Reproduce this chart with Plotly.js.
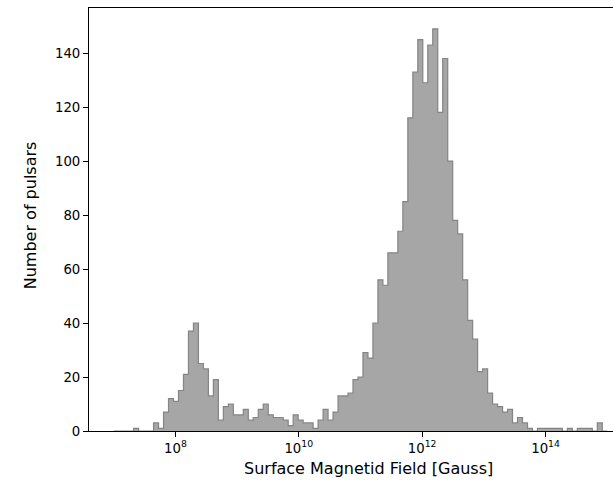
<!DOCTYPE html>
<html>
<head>
<meta charset="utf-8">
<script src="https://cdn.plot.ly/plotly-3.0.1.min.js"></script>
<style>
  html, body { margin: 0; padding: 0; background: #ffffff; overflow: hidden; }
  #chart { width: 613px; height: 488px; }
</style>
</head>
<body>
<div id="chart"></div>
<script>
// Histogram bins: 99 log-spaced bins from 1e7 to 1e15 (log10 limits)
const binLogMin = 7;
const binLogMax = 15;
const binCount = 99;

// Counts per bin (number of pulsars)
const counts = [
  0, 0, 0, 0, 1, 0, 0, 0, 3, 1,
  7, 12, 11, 15, 21, 37, 40, 25, 23, 13,
  19, 4, 9, 10, 6, 6, 8, 4, 5, 8,
  10, 6, 5, 5, 4, 2, 6, 4, 3, 3,
  1, 4, 8, 4, 7, 13, 13, 14, 19, 20,
  29, 27, 40, 56, 54, 66, 66, 74, 85, 116,
  133, 145, 129, 143, 149, 118, 138, 100, 78, 73,
  56, 41, 34, 22, 23, 14, 10, 9, 7, 8,
  3, 5, 3, 1, 0, 1, 1, 1, 1, 1,
  0, 1, 0, 1, 1, 1, 0, 3, 0
];

const xTickVals = [1e8, 1e10, 1e12, 1e14];
const xTickText = ['10<sup>8</sup>', '10<sup>10</sup>', '10<sup>12</sup>', '10<sup>14</sup>'];
const yTickVals = [0, 20, 40, 60, 80, 100, 120, 140];

const xLabel = 'Surface Magnetid Field [Gauss]';
const yLabel = 'Number of pulsars';

// build step outline from bin edges and counts
const edges = [];
for (let i = 0; i <= binCount; i++) {
  edges.push(Math.pow(10, binLogMin + i * (binLogMax - binLogMin) / binCount));
}
const xs = [edges[0]];
const ys = [0];
for (let i = 0; i < binCount; i++) {
  xs.push(edges[i]);
  ys.push(counts[i]);
}
xs.push(edges[binCount]);
ys.push(counts[binCount - 1]);
xs.push(edges[binCount]);
ys.push(0);

const trace = {
  type: 'scatter',
  mode: 'lines',
  x: xs,
  y: ys,
  line: { shape: 'hv', color: '#858585', width: 1.2 },
  fill: 'tozeroy',
  fillcolor: '#a6a6a6',
  hoverinfo: 'skip'
};

const font = { family: 'DejaVu Sans, sans-serif', size: 13.3, color: '#000000' };

const layout = {
  width: 613,
  height: 488,
  margin: { l: 89, r: 0, t: 8, b: 57, pad: 0 },
  paper_bgcolor: '#ffffff',
  plot_bgcolor: '#ffffff',
  showlegend: false,
  font: font,
  xaxis: {
    type: 'log',
    range: [6.6, 15.093],
    showgrid: false,
    zeroline: false,
    showline: true,
    linecolor: '#000000',
    linewidth: 1,
    mirror: true,
    ticks: 'outside',
    ticklen: 5,
    tickwidth: 1,
    tickcolor: '#000000',
    tickvals: xTickVals,
    ticktext: xTickText,
    tickfont: font
  },
  yaxis: {
    range: [0, 156.7],
    showgrid: false,
    zeroline: false,
    showline: true,
    linecolor: '#000000',
    linewidth: 1,
    mirror: false,
    ticks: 'outside',
    ticklen: 5,
    tickwidth: 1,
    tickcolor: '#000000',
    tickvals: yTickVals,
    tickfont: font
  },
  annotations: [
    {
      text: xLabel,
      xref: 'paper', yref: 'paper',
      x: 0.534, y: -0.0875,
      xanchor: 'center', yanchor: 'middle',
      showarrow: false,
      font: { family: 'DejaVu Sans, sans-serif', size: 16, color: '#000000' }
    },
    {
      text: yLabel,
      xref: 'paper', yref: 'paper',
      x: -0.1126, y: 0.51,
      xanchor: 'center', yanchor: 'middle',
      textangle: -90,
      showarrow: false,
      font: { family: 'DejaVu Sans, sans-serif', size: 16, color: '#000000' }
    }
  ]
};

Plotly.newPlot('chart', [trace], layout, { displayModeBar: false, staticPlot: true });
</script>
</body>
</html>
